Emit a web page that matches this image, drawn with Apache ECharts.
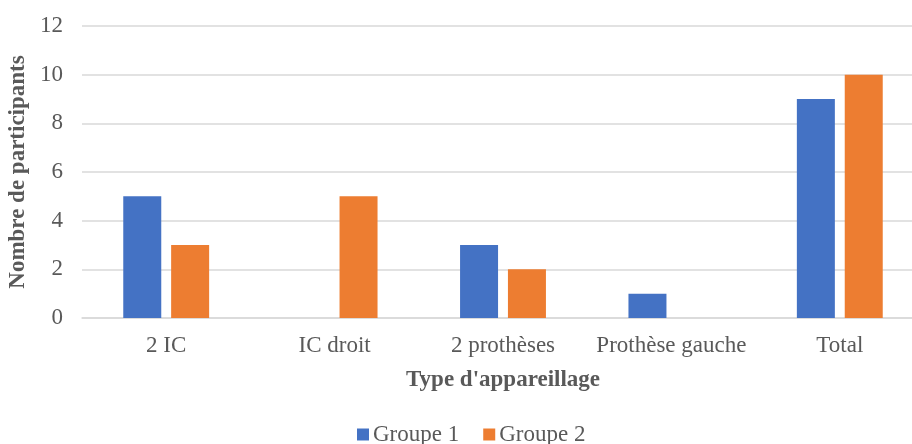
<!DOCTYPE html>
<html>
<head>
<meta charset="utf-8">
<script src="https://cdn.jsdelivr.net/npm/echarts@6/dist/echarts.min.js"></script>
<style>html,body{margin:0;padding:0;background:#fff;overflow:hidden}#c{width:924px;height:444px}</style>
</head>
<body>
<div id="c"></div>
<script>
const categories = ["2 IC", "IC droit", "2 prothèses", "Prothèse gauche", "Total"];
const groupe1 = [5, 0, 3, 1, 9];
const groupe2 = [3, 5, 2, 0, 10];
const seriesNames = ["Groupe 1", "Groupe 2"];
const yTitle = "Nombre de participants";
const xTitle = "Type d'appareillage";

const font = "'Liberation Serif', 'Times New Roman', serif";
const chart = echarts.init(document.getElementById('c'), null, {renderer: 'canvas'});
chart.setOption({
  animation: false,
  textStyle: {fontFamily: font},
  grid: {left: 82, right: 0, top: 26, bottom: 126, containLabel: false, outerBoundsMode: 'none'},
  legend: {
    left: 352, top: 418,
    itemWidth: 12, itemHeight: 12, itemGap: 24,
    icon: 'rect',
    textStyle: {fontFamily: font, fontSize: 23, color: '#595959', padding: [0, 0, 0, -1]},
    data: seriesNames
  },
  xAxis: {
    type: 'category',
    data: categories,
    axisLine: {lineStyle: {color: '#d9d9d9', width: 1.5}},
    axisTick: {show: false},
    axisLabel: {fontFamily: font, fontSize: 23, color: '#595959', margin: 16, interval: 0},
    name: xTitle,
    nameLocation: 'middle',
    nameGap: 51,
    nameTextStyle: {fontFamily: font, fontSize: 23, fontWeight: 'bold', color: '#595959'}
  },
  yAxis: {
    type: 'value',
    min: 0, max: 12, interval: 2,
    axisLine: {show: false},
    axisTick: {show: false},
    splitLine: {lineStyle: {color: '#d9d9d9', width: 1.5}},
    axisLabel: {fontFamily: font, fontSize: 23, color: '#595959', margin: 19},
    name: yTitle,
    nameLocation: 'middle',
    nameGap: 47,
    nameRotate: 90,
    nameTextStyle: {fontFamily: font, fontSize: 23, fontWeight: 'bold', color: '#595959'}
  },
  series: [
    {name: seriesNames[0], type: 'bar', data: groupe1, barWidth: 38, barGap: '26%',
     itemStyle: {color: '#4472C4'}},
    {name: seriesNames[1], type: 'bar', data: groupe2, barWidth: 38,
     itemStyle: {color: '#ED7D31'}}
  ]
});
</script>
</body>
</html>
